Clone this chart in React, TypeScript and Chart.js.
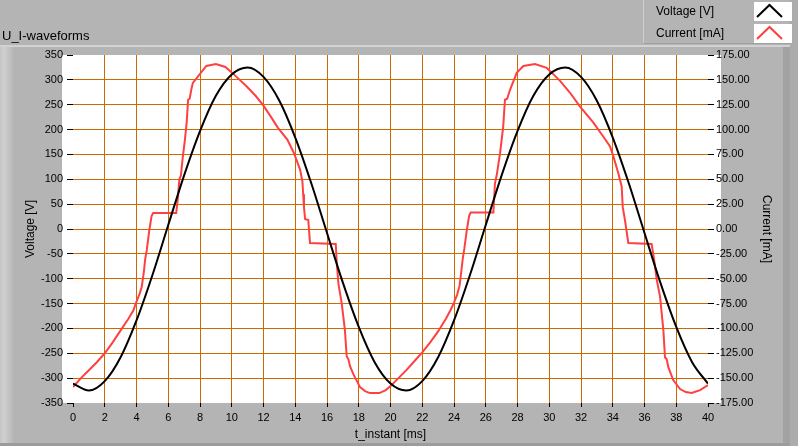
import { useEffect, useRef } from "react";
import { Chart, registerables } from "chart.js";

Chart.register(...registerables);

const chartTitle = "U_I-waveforms";
const xAxisTitle = "t_instant [ms]";
const voltageLabel = "Voltage [V]";
const currentLabel = "Current [mA]";

const xTickValues = [0, 2, 4, 6, 8, 10, 12, 14, 16, 18, 20, 22, 24, 26, 28, 30, 32, 34, 36, 38, 40];
const voltageTickValues = [-350, -300, -250, -200, -150, -100, -50, 0, 50, 100, 150, 200, 250, 300, 350];
const currentTickValues = [-175, -150, -125, -100, -75, -50, -25, 0, 25, 50, 75, 100, 125, 150, 175];

const voltageTimes = [
  0, 1, 2, 3, 4, 5, 6, 7, 8, 9, 10, 11, 12, 13, 14, 15, 16, 17, 18, 19, 20,
  21, 22, 23, 24, 25, 26, 27, 28, 29, 30, 31, 32, 33, 34, 35, 36, 37, 38, 39, 40,
];
const voltageValues = [
  -311, -325, -306, -258, -184, -93, 8, 108, 197, 268, 311,
  325, 306, 258, 184, 93, -8, -108, -197, -268, -311,
  -325, -306, -258, -184, -93, 8, 108, 197, 268, 311,
  325, 306, 258, 184, 93, -8, -108, -197, -268, -311,
];

const currentTimes = [
  0, 0.5, 1, 1.5, 2, 2.5, 3, 3.5, 3.8, 4.0, 4.2, 4.33, 4.45, 4.55, 4.65, 4.8, 4.95, 5.05,
  6.5, 6.6, 6.7, 6.8, 6.9, 7.05, 7.16, 7.25, 7.35, 7.45, 7.55, 7.9, 8.4, 9.0, 9.6, 10.1,
  10.5, 10.9, 11.5, 12.0, 12.5, 12.9, 13.5, 13.9, 14.3, 14.45, 14.5, 14.55, 14.62, 14.82,
  14.93, 16.55, 16.62, 16.72, 16.93, 17.13, 17.24, 17.35, 17.45, 17.66, 18.08, 18.4, 18.7,
  19.3, 19.7, 20.0,
  20.5, 21.0, 21.5, 22.0, 22.5, 23.0, 23.5, 23.8, 24.0, 24.2, 24.35, 24.45, 24.55, 24.65,
  24.8, 24.95, 25.05, 26.48, 26.58, 26.69, 26.9, 27.1, 27.21, 27.35, 27.53, 27.95, 28.37,
  29.1, 29.84, 30.3, 30.68, 31.31, 31.94, 32.78, 33.4, 33.83, 34.04, 34.35, 34.56, 34.63,
  34.77, 34.98, 36.45, 36.6, 36.77, 36.98, 37.19, 37.29, 37.4, 37.5, 37.81, 38.24, 38.6,
  38.97, 39.5, 40.0,
];
const currentValues = [
  -159, -150, -142, -134, -125, -114, -102, -90, -82, -73, -65, -58, -45, -30, -21, -2, 13, 16,
  16, 30, 50, 54, 70, 90, 107, 130, 131, 140, 147, 154, 164, 166, 163, 156,
  150, 144, 134, 124, 112, 102, 90, 77, 60, 48, 35, 22, 10, 9,
  -14, -15, -35, -55, -75, -102, -128, -131, -138, -146, -159, -163, -165,
  -165, -162, -158,
  -150, -142, -133, -124, -114, -103, -90, -81, -74, -66, -57, -44, -30, -20,
  -2, 13, 16.5, 16.5, 46, 54, 76, 103, 130, 131, 140, 157, 164,
  166, 162, 155, 149, 137, 123, 107, 93, 83, 73, 56, 43, 22,
  9, -14, -15, -30, -51, -68, -102, -129, -131, -139, -152, -161, -164,
  -165, -162, -157,
];

const FONT = "'Liberation Sans', Arial, sans-serif";
const GRID = "#CC6A00";
const BG = "#B4B4B4";

const framePlugin = {
  id: "frame",
  beforeDraw(chart: any) {
    const { ctx, width, height, chartArea } = chart;
    ctx.save();
    ctx.fillStyle = BG;
    ctx.fillRect(0, 0, width, height);
    // left bevel
    const g = ctx.createLinearGradient(0, 0, 13, 0);
    g.addColorStop(0, "#C6C6C6");
    g.addColorStop(0.3, "#D0D0D0");
    g.addColorStop(1, "#B8B8B8");
    ctx.fillStyle = g;
    ctx.fillRect(0, 46, 13, 397);
    // top light line of the graph frame
    ctx.fillStyle = "#D2D2D2";
    ctx.fillRect(0, 45, 790, 2);
    // right darker strip
    ctx.fillStyle = "#A2A2A2";
    ctx.fillRect(783, 47, 7, 399);
    ctx.fillStyle = "#ACACAC";
    ctx.fillRect(790, 0, 8, 446);
    // bottom line
    ctx.fillStyle = "#9C9C9C";
    ctx.fillRect(0, 443, 790, 3);
    // legend panel
    ctx.fillStyle = "#D0D0D0";
    ctx.fillRect(643, 0, 1, 44);
    ctx.fillStyle = "#A0A0A0";
    ctx.fillRect(643, 43, 147, 1);
    // plot background
    ctx.fillStyle = "#FFFFFF";
    ctx.fillRect(chartArea.left - 11, chartArea.top, chartArea.right - chartArea.left + 24, chartArea.bottom - chartArea.top);
    // chart title
    ctx.fillStyle = "#000";
    ctx.font = `13px ${FONT}`;
    ctx.textAlign = "left";
    ctx.textBaseline = "alphabetic";
    ctx.fillText(chartTitle, 2, 39.5);
    ctx.restore();
  },
  afterDraw(chart: any) {
    const { ctx } = chart;
    ctx.save();
    chart.data.datasets.forEach((ds: any, i: number) => {
      const top = 2 + i * 22;
      ctx.fillStyle = "#000";
      ctx.font = `12px ${FONT}`;
      ctx.textAlign = "left";
      ctx.textBaseline = "middle";
      ctx.fillText(ds.label, 656, top + 10);
      ctx.fillStyle = "#FFFFFF";
      ctx.fillRect(754, top, 38, 19);
      ctx.strokeStyle = ds.borderColor;
      ctx.lineWidth = 2;
      ctx.beginPath();
      ctx.moveTo(757, top + 15);
      ctx.lineTo(769.5, top + 3);
      ctx.lineTo(782, top + 15);
      ctx.stroke();
    });
    ctx.restore();
  },
};

export default function App() {
  const ref = useRef<HTMLCanvasElement | null>(null);

  useEffect(() => {
    if (!ref.current) return;
    const tickFont = { family: FONT, size: 11 };
    const titleFont = { family: FONT, size: 12 };
    const chart = new Chart(ref.current, {
      type: "line",
      data: {
        datasets: [
          {
            label: voltageLabel,
            data: voltageTimes.map((t, i) => ({ x: t, y: voltageValues[i] })),
            yAxisID: "y",
            borderColor: "#000000",
            backgroundColor: "#000000",
            borderWidth: 2,
            pointRadius: 0,
            cubicInterpolationMode: "monotone",
          },
          {
            label: currentLabel,
            data: currentTimes.map((t, i) => ({ x: t, y: currentValues[i] })),
            yAxisID: "y1",
            borderColor: "#FF4040",
            backgroundColor: "#FF4040",
            borderWidth: 2,
            pointRadius: 0,
            tension: 0,
          },
        ],
      },
      options: {
        animation: false,
        responsive: false,
        maintainAspectRatio: false,
        layout: { padding: { top: 55, left: 0, right: 0, bottom: 0 } },
        plugins: {
          legend: { display: false },
          tooltip: { enabled: false },
          title: { display: false },
        },
        scales: {
          x: {
            type: "linear",
            position: "bottom",
            min: 0,
            max: 40,
            afterBuildTicks: (s: any) => {
              s.ticks = xTickValues.map((v) => ({ value: v }));
            },
            afterFit: (s: any) => {
              s.height = 43;
            },
            grid: {
              color: (c: any) => (c.tick && (c.tick.value === 0 || c.tick.value === 40) ? "rgba(0,0,0,0)" : GRID),
              lineWidth: 1,
              drawTicks: true,
              tickLength: 4,
              tickColor: "#000",
              tickWidth: 1,
            },
            border: { display: false },
            ticks: { font: tickFont, color: "#000", padding: 4, maxRotation: 0, autoSkip: false },
            title: { display: true, text: xAxisTitle, font: titleFont, color: "#000", padding: { top: 0, bottom: 4 } },
          },
          y: {
            type: "linear",
            position: "left",
            min: -350,
            max: 350,
            afterBuildTicks: (s: any) => {
              s.ticks = voltageTickValues.map((v) => ({ value: v }));
            },
            afterFit: (s: any) => {
              s.width = 73;
            },
            grid: {
              color: (c: any) => (c.tick && Math.abs(c.tick.value) === 350 ? "rgba(0,0,0,0)" : GRID),
              lineWidth: 1,
              drawTicks: true,
              tickLength: 6,
              tickColor: "#000",
              tickWidth: 1,
            },
            border: { display: false },
            ticks: { font: tickFont, color: "#000", padding: 4, autoSkip: false },
            title: { display: true, text: voltageLabel, font: titleFont, color: "#000", padding: { top: 23, bottom: 0 } },
          },
          y1: {
            type: "linear",
            position: "right",
            min: -175,
            max: 175,
            afterBuildTicks: (s: any) => {
              s.ticks = currentTickValues.map((v) => ({ value: v }));
            },
            afterFit: (s: any) => {
              s.width = 90;
            },
            grid: {
              drawOnChartArea: false,
              drawTicks: true,
              tickLength: 6,
              tickColor: "#000",
              tickWidth: 1,
            },
            border: { display: false },
            ticks: {
              font: tickFont,
              color: "#000",
              padding: 2,
              autoSkip: false,
              callback: (v: any) => Number(v).toFixed(2),
            },
            title: { display: true, text: currentLabel, font: titleFont, color: "#000", padding: { top: 24, bottom: 0 } },
          },
        },
      } as any,
      plugins: [framePlugin],
    });
    return () => chart.destroy();
  }, []);

  return (
    <div style={{ position: "fixed", left: 0, top: 0, width: 798, height: 446 }}>
      <canvas ref={ref} width={798} height={446} style={{ width: 798, height: 446, display: "block" }} />
    </div>
  );
}
